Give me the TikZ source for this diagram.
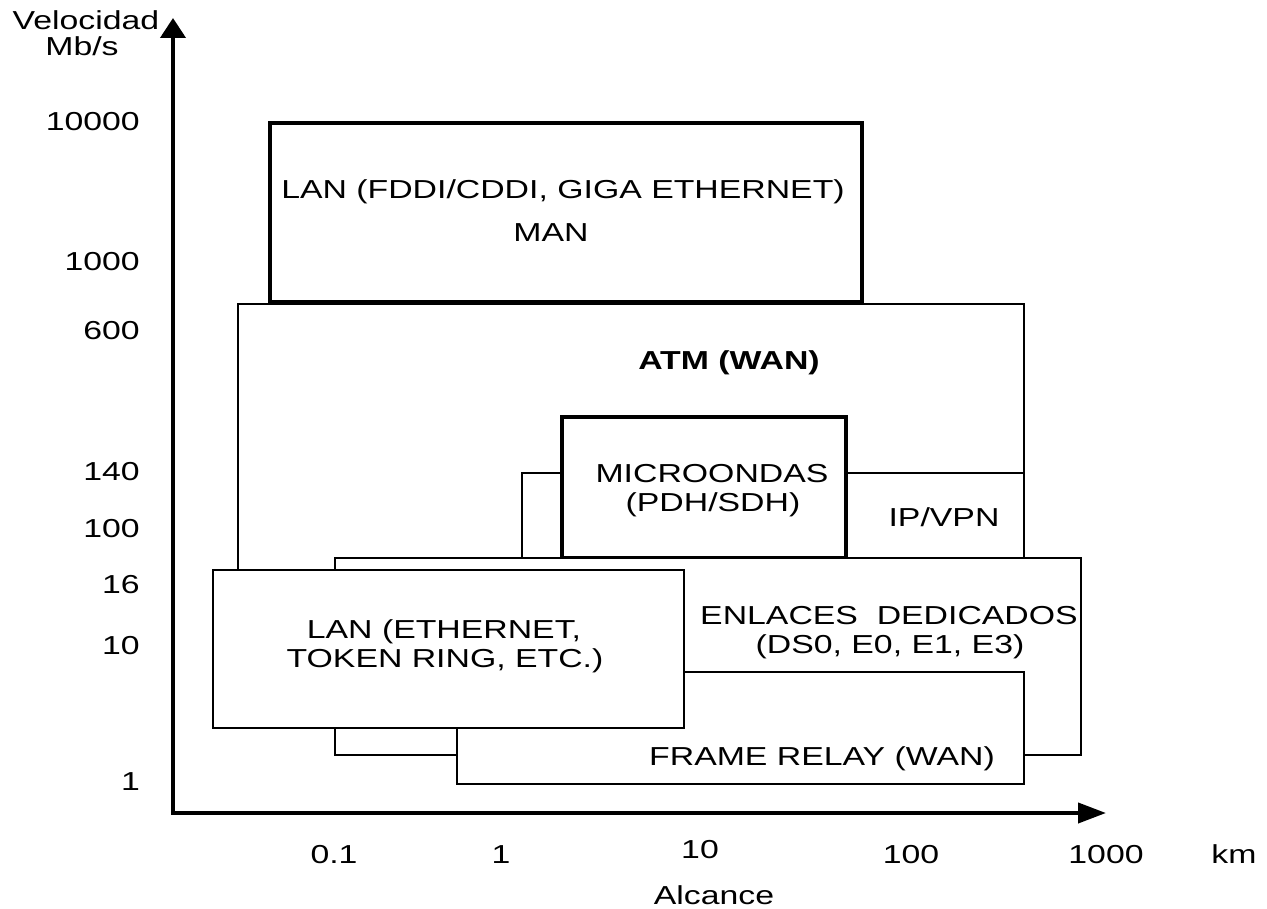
\documentclass[tikz,border=0pt]{standalone}
\usepackage{fontspec}
\setmainfont[FakeStretch=1.3]{Liberation Sans}
\usetikzlibrary{arrows.meta}
\newcommand\labfont{\fontsize{26}{31}\selectfont}
\begin{document}
\begin{tikzpicture}[x=1pt,y=-1pt,font=\labfont,
  txt/.style={inner sep=0pt,anchor=base},
  ylab/.style={inner sep=0pt,anchor=base east},
  box/.style={draw=black,fill=white,line join=miter},
  thickbox/.style={box,line width=3.5pt},
  midbox/.style={box,line width=2.7pt},
  thinbox/.style={box,line width=2pt},
  axis/.style={line width=4pt,line join=miter}]
\useasboundingbox (0,0) rectangle (1267,909);
% axes
\coordinate (O) at (173,813);
\coordinate (ytip) at (173,18);
\coordinate (xtip) at (1106,813);
\draw[axis,{Triangle[length=20pt,width=25pt]}-{Triangle[length=28pt,width=20pt]}] (ytip) -- (O) -- (xtip);
% boxes, back to front
\draw[box,line width=2.7pt] (238,304) rectangle (1024,600);
\draw[thinbox] (522,473) rectangle (1024,600);
\draw[thickbox] (562,417) rectangle (846,558);
\draw[midbox] (335,558) rectangle (1081,755);
\draw[midbox] (457,672) rectangle (1024,784);
\draw[midbox] (213,570) rectangle (684,728);
\draw[thickbox] (270,123) rectangle (862,302);
% box texts
\node[txt] (fddi) at (563,199) {LAN (FDDI/CDDI, GIGA ETHERNET)};
\node[txt] (man) at (551,242) {MAN};
\node[txt,font=\labfont\bfseries] (atm) at (729,370) {ATM (WAN)};
\node[txt] (micro1) at (712,482) {MICROONDAS};
\node[txt] (micro2) at (713,511) {(PDH/SDH)};
\node[txt] (ipvpn) at (944,526) {IP/VPN};
\node[txt] (enl1) at (889,624) {ENLACES\ \ DEDICADOS};
\node[txt] (enl2) at (890,653) {(DS0, E0, E1, E3)};
\node[txt] (lan1) at (444,638) {LAN (ETHERNET,};
\node[txt] (lan2) at (445,667) {TOKEN RING, ETC.)};
\node[txt] (frame) at (822,765) {FRAME RELAY (WAN)};
% axis titles
\node[txt] (vel) at (86,30) {Velocidad};
\node[txt] (mbs) at (82,56) {Mb/s};
\node[txt] (alc) at (714,904) {Alcance};
% y labels
\node[ylab] (y10000) at (140,131) {10000};
\node[ylab] (y1000) at (140,271) {1000};
\node[ylab] (y600) at (140,340) {600};
\node[ylab] (y140) at (140,480) {140};
\node[ylab] (y100) at (140,537) {100};
\node[ylab] (y16) at (140,593) {16};
\node[ylab] (y10) at (140,654) {10};
\node[ylab] (y1) at (140,790) {1};
% x labels
\node[txt] (x01) at (334,863) {0.1};
\node[txt] (x1) at (501,863) {1};
\node[txt] (x10) at (700,858) {10};
\node[txt] (x100) at (911,863) {100};
\node[txt] (x1000) at (1106,863) {1000};
\node[txt] (km) at (1234,863) {km};
\end{tikzpicture}
\end{document}
